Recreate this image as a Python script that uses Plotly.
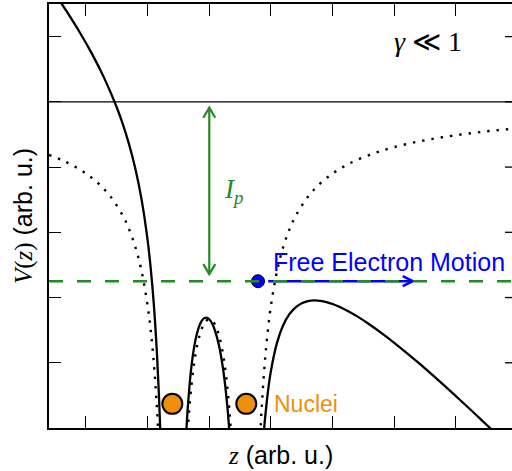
import plotly.graph_objects as go

# ---- data (arb. units) ----
solid_left_z = [-2.5, -2.39, -2.3, -2.1, -1.9, -1.7, -1.5, -1.4, -1.3, -1.2, -1.1, -1.0, -0.95, -0.9, -0.85, -0.82, -0.8, -0.79]
solid_left_v = [1.651, 1.497, 1.367, 1.063, 0.731, 0.356, -0.087, -0.35, -0.655, -1.022, -1.488, -2.125, -2.552, -3.1, -3.84, -4.43, -4.914, -5.193]

solid_mid_z = [-0.38, -0.37, -0.35, -0.3, -0.25, -0.2, -0.15, -0.1, -0.05, 0.0, 0.05, 0.1, 0.15, 0.2, 0.25, 0.3, 0.32, 0.33]
solid_mid_v = [-5.186, -5.009, -4.703, -4.144, -3.784, -3.55, -3.406, -3.329, -3.307, -3.333, -3.407, -3.529, -3.706, -3.95, -4.284, -4.744, -4.978, -5.109]

solid_right_z = [0.88, 0.89, 0.9, 0.95, 1.0, 1.1, 1.2, 1.3, 1.4, 1.5, 1.6, 1.7, 1.8, 1.9, 2.0, 2.2, 2.4, 2.6, 2.8, 3.0, 3.2, 3.4, 3.6, 3.8, 4.0, 4.2, 4.4, 4.6]
solid_right_v = [-5.127, -5.009, -4.9, -4.452, -4.125, -3.688, -3.422, -3.255, -3.15, -3.087, -3.055, -3.044, -3.05, -3.069, -3.099, -3.182, -3.289, -3.413, -3.549, -3.694, -3.848, -4.007, -4.171, -4.34, -4.512, -4.686, -4.863, -5.042]

dot_left_z = [-2.6, -2.4, -2.2, -2.0, -1.8, -1.6, -1.4, -1.3, -1.2, -1.1, -1.0, -0.95, -0.9, -0.85, -0.82]
dot_left_v = [-0.8125, -0.889, -0.982, -1.099, -1.25, -1.455, -1.75, -1.955, -2.222, -2.588, -3.125, -3.502, -4.0, -4.69, -5.25]

dot_mid_z = [-0.35, -0.33, -0.3, -0.25, -0.2, -0.15, -0.1, -0.05, 0.0, 0.05, 0.1, 0.15, 0.2, 0.25, 0.3, 0.33, 0.35]
dot_mid_v = [-5.053, -4.779, -4.444, -4.034, -3.75, -3.556, -3.429, -3.357, -3.333, -3.357, -3.429, -3.556, -3.75, -4.034, -4.444, -4.779, -5.053]

dot_right_z = [0.82, 0.85, 0.9, 0.95, 1.0, 1.1, 1.2, 1.3, 1.4, 1.6, 1.8, 2.0, 2.2, 2.4, 2.7, 3.0, 3.4, 3.8, 4.2, 4.6, 5.0]
dot_right_v = [-5.25, -4.69, -4.0, -3.502, -3.125, -2.588, -2.222, -1.955, -1.75, -1.455, -1.25, -1.099, -0.982, -0.889, -0.779, -0.694, -0.607, -0.54, -0.486, -0.442, -0.406]

nuclei_z = [-0.6, 0.6]
nuclei_v = [-4.63, -4.63]

ip_level = -2.75
electron_z = [0.79]
electron_v = [ip_level]
motion_start, motion_end = 0.955, 3.3
ip_arrow_z = 0.0
ip_arrow_top, ip_arrow_bottom = -0.09, -2.64

x_range = [-2.6, 4.91]
y_range = [-5.0, 1.5]
x_ticks = [-2, -1, 0, 1, 2, 3, 4]
y_ticks = [-4, -3, -2, -1, 0, 1]

GREEN = "#228b22"
BLUE = "#0000ff"
ORANGE = "#ef8f0a"

fig = go.Figure()

def curve(z, v, dash=None):
    fig.add_trace(go.Scatter(x=z, y=v, mode="lines", line_shape="spline",
                             line=dict(color="black", width=2.3 if dash is None else 2.4, dash=dash),
                             hoverinfo="skip", showlegend=False))

for z, v in [(dot_left_z, dot_left_v), (dot_mid_z, dot_mid_v), (dot_right_z, dot_right_v)]:
    curve(z, v, dash="2.4px,7px")
for z, v in [(solid_left_z, solid_left_v), (solid_mid_z, solid_mid_v), (solid_right_z, solid_right_v)]:
    curve(z, v)

# pixel scale helpers (for arrow head sizes)
pxx = (x_range[1] - x_range[0]) / 463.0
pxy = (y_range[1] - y_range[0]) / 424.0

# Ip double arrow
fig.add_trace(go.Scatter(x=[ip_arrow_z, ip_arrow_z], y=[ip_arrow_top, ip_arrow_bottom], mode="lines",
                         line=dict(color=GREEN, width=2.2), hoverinfo="skip", showlegend=False))
hw, hl = 6 * pxx, 10 * pxy
fig.add_trace(go.Scatter(x=[ip_arrow_z - hw, ip_arrow_z, ip_arrow_z + hw], y=[ip_arrow_top - hl, ip_arrow_top, ip_arrow_top - hl],
                         mode="lines", line=dict(color=GREEN, width=2.2), hoverinfo="skip", showlegend=False))
fig.add_trace(go.Scatter(x=[ip_arrow_z - hw, ip_arrow_z, ip_arrow_z + hw], y=[ip_arrow_bottom + hl, ip_arrow_bottom, ip_arrow_bottom + hl],
                         mode="lines", line=dict(color=GREEN, width=2.2), hoverinfo="skip", showlegend=False))

# Ip level dashed line and zero line
fig.add_shape(type="line", xref="paper", x0=0, x1=1, yref="y", y0=ip_level, y1=ip_level,
              line=dict(color=GREEN, width=2.5, dash="14px,14px"), layer="above")
fig.add_shape(type="line", xref="paper", x0=0, x1=1, yref="y", y0=0, y1=0,
              line=dict(color="black", width=1.3), layer="above")

# free electron motion arrow
fig.add_trace(go.Scatter(x=[motion_start, motion_end], y=[ip_level, ip_level], mode="lines",
                         line=dict(color=BLUE, width=2.5), hoverinfo="skip", showlegend=False))
bl, bh = 10 * pxx, 5 * pxy
fig.add_trace(go.Scatter(x=[motion_end - bl, motion_end, motion_end - bl], y=[ip_level + bh, ip_level, ip_level - bh],
                         mode="lines", line=dict(color=BLUE, width=2.5), hoverinfo="skip", showlegend=False))

# electron and nuclei
fig.add_trace(go.Scatter(x=electron_z, y=electron_v, mode="markers",
                         marker=dict(size=13, color=BLUE, line=dict(color="black", width=1)),
                         hoverinfo="skip", showlegend=False))
fig.add_trace(go.Scatter(x=nuclei_z, y=nuclei_v, mode="markers",
                         marker=dict(size=20, color=ORANGE, line=dict(color="black", width=2)),
                         hoverinfo="skip", showlegend=False))

# right-side ticks (plot is cropped on the right)
for yt in y_ticks:
    fig.add_shape(type="line", xref="paper", x0=1 - 7 / 463.0, x1=1, yref="y", y0=yt, y1=yt,
                  line=dict(color="black", width=1.3))

SERIF = "Liberation Serif"
SANS = "Liberation Sans"
ann = [
    dict(x=1.0, y=-2.45, text="Free Electron Motion", xanchor="left", yanchor="middle",
         font=dict(family=SANS, size=25, color=BLUE)),
    dict(x=1.02, y=-4.63, text="Nuclei", xanchor="left", yanchor="middle",
         font=dict(family=SANS, size=23, color=ORANGE)),
    dict(x=3.54, y=0.93, text="<i>γ</i> ≪ 1", xanchor="center", yanchor="middle",
         font=dict(family=SERIF, size=28, color="black")),
    dict(x=0.2, y=-1.36, text="<i>I<sub>p</sub></i>", xanchor="left", yanchor="middle",
         font=dict(family=SERIF, size=27, color=GREEN)),
    dict(xref="paper", yref="paper", x=0.5, y=-0.064,
         text='<span style="font-family:Liberation Serif"><i>z</i></span> (arb. u.)',
         xanchor="center", yanchor="middle", font=dict(family=SANS, size=25, color="black")),
    dict(xref="paper", yref="paper", x=-0.056, y=0.5, textangle=-90,
         text='<span style="font-family:Liberation Serif"><i>V</i>(<i>z</i>)</span> (arb. u.)',
         xanchor="center", yanchor="middle", font=dict(family=SANS, size=25, color="black")),
]
for a in ann:
    a.setdefault("xref", "x")
    a.setdefault("yref", "y")
    a["showarrow"] = False
    fig.add_annotation(**a)

fig.update_layout(
    width=512, height=471, autosize=False,
    margin=dict(l=49, r=0, t=4, b=43, pad=0),
    plot_bgcolor="white", paper_bgcolor="white",
    xaxis=dict(range=x_range, tickvals=x_ticks, showticklabels=False, ticks="inside", ticklen=12,
               tickwidth=1.3, tickcolor="black", showline=True, linecolor="black", linewidth=1.5,
               mirror="ticks", showgrid=False, zeroline=False, fixedrange=True),
    yaxis=dict(range=y_range, tickvals=y_ticks, showticklabels=False, ticks="inside", ticklen=12,
               tickwidth=1.3, tickcolor="black", showline=True, linecolor="black", linewidth=1.5,
               mirror=False, showgrid=False, zeroline=False, fixedrange=True),
)

fig.write_html("out.html", config={"displayModeBar": False},
               post_script="document.body.style.margin='0';document.body.style.overflow='hidden';")
